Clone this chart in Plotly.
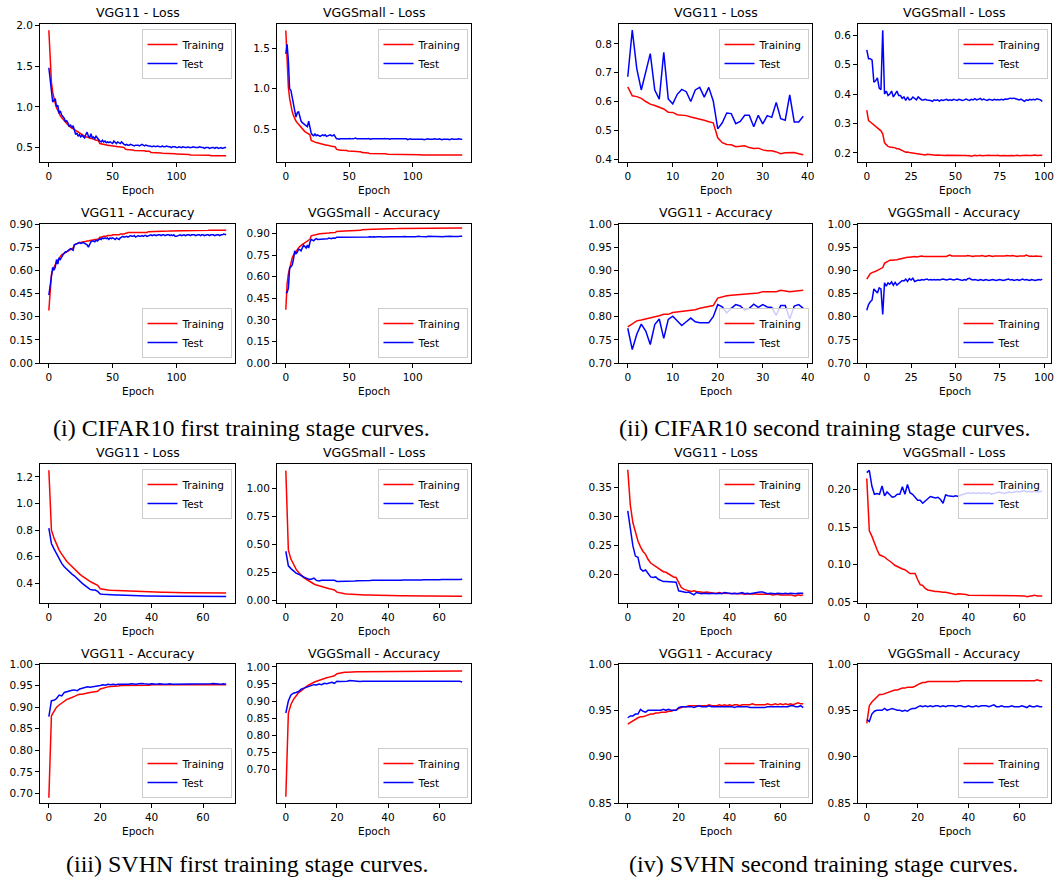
import plotly.graph_objects as go

# ---------------- data ----------------
# (i) CIFAR10 first stage, 140 epochs
c1_vgg11_loss_train = [1.94,1.52,1.30,1.18,1.10,1.04,0.99,0.95,0.92,0.89,
 0.87,0.85,0.83,0.81,0.79,0.78,0.76,0.75,0.74,0.73,
 0.71,0.70,0.69,0.68,0.67,0.66,0.65,0.65,0.64,0.63,
 0.63,0.62,0.62,0.61,0.61,0.60,0.60,0.59,0.59,0.58,
 0.55,0.545,0.54,0.54,0.535,0.53,0.53,0.525,0.525,0.52,
 0.52,0.52,0.515,0.515,0.51,0.51,0.51,0.505,0.505,0.50,
 0.48,0.475,0.475,0.47,0.47,0.47,0.47,0.465,0.465,0.465,
 0.465,0.46,0.46,0.46,0.46,0.46,0.455,0.455,0.455,0.455,
 0.44,0.44,0.44,0.44,0.435,0.435,0.435,0.435,0.435,0.43,
 0.43,0.43,0.43,0.43,0.43,0.43,0.43,0.425,0.425,0.425,
 0.42,0.42,0.42,0.415,0.415,0.415,0.415,0.415,0.415,0.415,
 0.415,0.41,0.41,0.41,0.41,0.41,0.41,0.41,0.41,0.41,
 0.405,0.405,0.405,0.405,0.405,0.405,0.405,0.40,0.40,0.40,
 0.40,0.40,0.40,0.40,0.40,0.40,0.40,0.40,0.40,0.40]
c1_vgg11_loss_test = [1.48,1.32,1.20,1.06,1.08,1.10,1.00,1.02,0.92,0.95,
 0.90,0.88,0.86,0.82,0.83,0.80,0.76,0.78,0.74,0.77,
 0.72,0.66,0.68,0.64,0.66,0.63,0.65,0.64,0.62,0.66,
 0.69,0.64,0.62,0.67,0.62,0.63,0.61,0.64,0.61,0.60,
 0.58,0.57,0.59,0.57,0.58,0.56,0.57,0.56,0.57,0.56,
 0.55,0.58,0.56,0.55,0.57,0.56,0.55,0.57,0.55,0.54,
 0.53,0.54,0.53,0.53,0.54,0.53,0.53,0.52,0.53,0.53,
 0.53,0.52,0.53,0.54,0.53,0.52,0.53,0.52,0.52,0.52,
 0.51,0.51,0.52,0.51,0.51,0.52,0.51,0.51,0.51,0.52,
 0.51,0.51,0.52,0.51,0.51,0.51,0.50,0.51,0.51,0.51,
 0.50,0.50,0.51,0.50,0.50,0.51,0.50,0.50,0.50,0.51,
 0.50,0.50,0.50,0.51,0.50,0.50,0.50,0.50,0.51,0.50,
 0.50,0.50,0.49,0.50,0.50,0.50,0.49,0.50,0.50,0.50,
 0.49,0.50,0.50,0.49,0.50,0.50,0.49,0.50,0.50,0.50]
c1_small_loss_train = [1.72,1.25,1.02,0.88,0.79,0.72,0.67,0.63,0.60,0.58,
 0.56,0.54,0.52,0.50,0.49,0.47,0.46,0.45,0.44,0.43,
 0.36,0.35,0.345,0.34,0.335,0.33,0.325,0.32,0.315,0.31,
 0.31,0.305,0.30,0.30,0.295,0.29,0.29,0.285,0.285,0.28,
 0.25,0.245,0.245,0.24,0.24,0.24,0.235,0.235,0.235,0.23,
 0.23,0.23,0.23,0.225,0.225,0.225,0.225,0.22,0.22,0.22,
 0.21,0.21,0.205,0.205,0.205,0.205,0.20,0.20,0.20,0.20,
 0.20,0.20,0.20,0.20,0.195,0.195,0.195,0.195,0.195,0.195,
 0.19,0.19,0.19,0.19,0.19,0.19,0.19,0.19,0.19,0.19,
 0.19,0.19,0.19,0.185,0.185,0.185,0.185,0.185,0.185,0.185,
 0.185,0.185,0.185,0.185,0.185,0.185,0.185,0.18,0.18,0.18,
 0.18,0.18,0.18,0.18,0.18,0.18,0.18,0.18,0.18,0.18,
 0.18,0.18,0.18,0.18,0.18,0.18,0.18,0.18,0.18,0.18,
 0.18,0.18,0.18,0.18,0.18,0.18,0.18,0.18,0.18,0.18]
c1_small_loss_test = [1.43,1.55,1.35,1.00,0.98,0.90,0.82,0.72,0.65,0.70,
 0.72,0.66,0.60,0.58,0.57,0.55,0.54,0.53,0.60,0.50,
 0.45,0.43,0.42,0.44,0.42,0.43,0.42,0.41,0.42,0.43,
 0.42,0.43,0.41,0.42,0.42,0.43,0.42,0.42,0.43,0.40,
 0.38,0.38,0.375,0.38,0.38,0.38,0.375,0.38,0.38,0.38,
 0.385,0.38,0.38,0.38,0.385,0.39,0.38,0.38,0.375,0.38,
 0.38,0.38,0.375,0.38,0.38,0.385,0.38,0.375,0.38,0.38,
 0.38,0.375,0.38,0.38,0.38,0.375,0.38,0.38,0.385,0.38,
 0.38,0.38,0.375,0.38,0.38,0.375,0.38,0.38,0.375,0.38,
 0.38,0.375,0.38,0.38,0.375,0.38,0.37,0.375,0.38,0.375,
 0.375,0.38,0.375,0.375,0.38,0.375,0.375,0.38,0.375,0.37,
 0.375,0.375,0.38,0.375,0.375,0.37,0.375,0.38,0.375,0.375,
 0.375,0.38,0.375,0.37,0.375,0.375,0.38,0.375,0.375,0.37,
 0.375,0.38,0.375,0.375,0.37,0.375,0.38,0.375,0.375,0.375]
c1_vgg11_acc_train = [0.34,0.50,0.57,0.60,0.62,0.64,0.655,0.665,0.68,0.69,
 0.70,0.705,0.71,0.715,0.72,0.725,0.73,0.735,0.74,0.745,
 0.765,0.77,0.775,0.775,0.78,0.78,0.785,0.785,0.785,0.79,
 0.79,0.79,0.795,0.795,0.795,0.80,0.80,0.80,0.80,0.805,
 0.815,0.815,0.82,0.82,0.82,0.82,0.825,0.825,0.825,0.825,
 0.83,0.83,0.83,0.83,0.83,0.83,0.835,0.835,0.835,0.835,
 0.84,0.84,0.845,0.845,0.845,0.845,0.845,0.845,0.845,0.845,
 0.845,0.845,0.845,0.845,0.845,0.845,0.845,0.845,0.85,0.85,
 0.852,0.852,0.853,0.853,0.853,0.853,0.853,0.853,0.854,0.854,
 0.854,0.854,0.854,0.854,0.854,0.855,0.855,0.855,0.855,0.855,
 0.856,0.856,0.856,0.856,0.856,0.857,0.857,0.857,0.857,0.857,
 0.858,0.858,0.858,0.858,0.858,0.858,0.858,0.858,0.858,0.858,
 0.859,0.859,0.859,0.859,0.859,0.859,0.86,0.86,0.86,0.86,
 0.86,0.86,0.86,0.86,0.86,0.86,0.86,0.86,0.86,0.86]
c1_vgg11_acc_test = [0.44,0.52,0.56,0.62,0.60,0.62,0.67,0.64,0.68,0.67,
 0.69,0.70,0.71,0.72,0.72,0.73,0.735,0.74,0.735,0.73,
 0.765,0.77,0.775,0.78,0.78,0.775,0.78,0.78,0.775,0.77,
 0.765,0.75,0.775,0.785,0.79,0.79,0.785,0.795,0.79,0.80,
 0.805,0.80,0.81,0.805,0.81,0.805,0.81,0.80,0.81,0.805,
 0.81,0.805,0.80,0.81,0.805,0.80,0.81,0.815,0.82,0.815,
 0.82,0.82,0.815,0.82,0.825,0.82,0.82,0.825,0.815,0.82,
 0.825,0.82,0.82,0.825,0.82,0.825,0.825,0.82,0.825,0.83,
 0.83,0.825,0.83,0.83,0.825,0.83,0.83,0.83,0.825,0.83,
 0.83,0.825,0.83,0.83,0.83,0.825,0.83,0.825,0.83,0.82,
 0.82,0.825,0.83,0.83,0.825,0.83,0.83,0.825,0.83,0.83,
 0.83,0.825,0.83,0.83,0.83,0.825,0.83,0.83,0.83,0.825,
 0.83,0.83,0.825,0.83,0.83,0.83,0.825,0.83,0.83,0.83,
 0.825,0.83,0.83,0.83,0.825,0.83,0.83,0.835,0.83,0.83]
c1_small_acc_train = [0.37,0.55,0.62,0.66,0.70,0.73,0.75,0.765,0.78,0.79,
 0.80,0.81,0.82,0.825,0.83,0.837,0.845,0.85,0.855,0.86,
 0.885,0.888,0.89,0.892,0.895,0.897,0.898,0.90,0.90,0.902,
 0.902,0.903,0.904,0.905,0.905,0.906,0.907,0.907,0.908,0.908,
 0.915,0.916,0.916,0.917,0.917,0.918,0.918,0.918,0.919,0.919,
 0.92,0.92,0.92,0.921,0.921,0.922,0.922,0.922,0.923,0.923,
 0.927,0.928,0.928,0.928,0.929,0.929,0.929,0.93,0.93,0.93,
 0.93,0.93,0.931,0.931,0.931,0.931,0.932,0.932,0.932,0.932,
 0.934,0.934,0.934,0.935,0.935,0.935,0.935,0.935,0.935,0.936,
 0.936,0.936,0.936,0.936,0.936,0.937,0.937,0.937,0.937,0.937,
 0.938,0.938,0.938,0.938,0.938,0.938,0.938,0.939,0.939,0.939,
 0.939,0.939,0.939,0.939,0.939,0.94,0.94,0.94,0.94,0.94,
 0.94,0.94,0.94,0.94,0.94,0.941,0.941,0.941,0.941,0.941,
 0.941,0.941,0.941,0.941,0.941,0.941,0.941,0.941,0.941,0.94]
c1_small_acc_test = [0.49,0.49,0.52,0.66,0.67,0.68,0.72,0.78,0.76,0.77,
 0.79,0.79,0.78,0.80,0.82,0.81,0.80,0.82,0.80,0.84,
 0.86,0.855,0.85,0.86,0.865,0.86,0.86,0.865,0.86,0.86,
 0.865,0.86,0.865,0.865,0.87,0.865,0.865,0.87,0.87,0.868,
 0.875,0.875,0.873,0.875,0.877,0.875,0.876,0.875,0.878,0.875,
 0.876,0.877,0.875,0.874,0.877,0.876,0.878,0.875,0.876,0.874,
 0.876,0.877,0.878,0.876,0.875,0.877,0.879,0.876,0.877,0.878,
 0.876,0.877,0.878,0.879,0.877,0.878,0.876,0.877,0.879,0.878,
 0.879,0.88,0.878,0.879,0.878,0.879,0.88,0.878,0.879,0.88,
 0.879,0.878,0.88,0.879,0.88,0.878,0.879,0.88,0.879,0.878,
 0.88,0.879,0.878,0.88,0.879,0.881,0.88,0.879,0.88,0.882,
 0.88,0.879,0.881,0.88,0.879,0.88,0.881,0.879,0.88,0.88,
 0.879,0.88,0.881,0.88,0.879,0.88,0.881,0.88,0.879,0.88,
 0.881,0.88,0.879,0.88,0.881,0.88,0.88,0.882,0.881,0.882]

# (ii) CIFAR10 second stage: VGG11 40 epochs, VGGSmall 100 epochs
c2_vgg11_loss_train = [0.651,0.620,0.617,0.611,0.600,0.591,0.586,0.581,0.574,0.563,
 0.562,0.554,0.552,0.551,0.546,0.543,0.539,0.535,0.530,0.526,
 0.474,0.457,0.451,0.450,0.443,0.444,0.446,0.440,0.437,0.438,
 0.432,0.429,0.429,0.425,0.419,0.422,0.423,0.423,0.419,0.415]
c2_vgg11_loss_test = [0.686,0.848,0.714,0.640,0.703,0.766,0.640,0.608,0.771,0.609,
 0.592,0.625,0.642,0.634,0.600,0.640,0.649,0.615,0.649,0.602,
 0.505,0.526,0.560,0.558,0.523,0.531,0.552,0.552,0.512,0.552,
 0.522,0.551,0.545,0.597,0.540,0.535,0.623,0.529,0.529,0.549]
c2_small_loss_train = [0.345,0.31,0.305,0.30,0.295,0.29,0.283,0.28,0.275,0.265,
 0.235,0.228,0.222,0.22,0.22,0.218,0.217,0.214,0.214,0.21,
 0.207,0.205,0.202,0.203,0.201,0.20,0.199,0.198,0.197,0.198,
 0.196,0.195,0.194,0.193,0.195,0.194,0.193,0.194,0.193,0.192,
 0.193,0.192,0.193,0.192,0.191,0.192,0.192,0.191,0.192,0.191,
 0.192,0.191,0.192,0.193,0.191,0.192,0.191,0.190,0.191,0.189,
 0.191,0.192,0.190,0.191,0.192,0.190,0.191,0.190,0.191,0.192,
 0.191,0.190,0.191,0.191,0.192,0.190,0.191,0.192,0.191,0.190,
 0.191,0.192,0.191,0.190,0.191,0.192,0.190,0.191,0.190,0.191,
 0.192,0.191,0.190,0.191,0.192,0.193,0.191,0.192,0.193,0.192]
c2_small_loss_test = [0.55,0.52,0.52,0.515,0.44,0.445,0.455,0.42,0.415,0.617,
 0.40,0.41,0.395,0.40,0.41,0.39,0.40,0.41,0.395,0.395,
 0.385,0.39,0.378,0.39,0.38,0.382,0.39,0.385,0.38,0.39,
 0.385,0.38,0.38,0.382,0.38,0.38,0.378,0.375,0.38,0.378,
 0.38,0.376,0.38,0.378,0.38,0.382,0.378,0.38,0.378,0.382,
 0.38,0.378,0.382,0.38,0.378,0.38,0.383,0.38,0.378,0.382,
 0.38,0.384,0.38,0.382,0.385,0.38,0.383,0.38,0.378,0.382,
 0.38,0.379,0.382,0.38,0.381,0.38,0.382,0.38,0.383,0.382,
 0.384,0.386,0.385,0.386,0.384,0.382,0.38,0.383,0.378,0.375,
 0.38,0.378,0.382,0.38,0.382,0.38,0.384,0.382,0.38,0.375]
c2_vgg11_acc_train = [0.778,0.785,0.791,0.793,0.795,0.797,0.799,0.802,0.805,0.805,
 0.809,0.810,0.812,0.813,0.814,0.815,0.818,0.820,0.821,0.824,
 0.840,0.843,0.845,0.846,0.847,0.847,0.848,0.849,0.850,0.851,
 0.854,0.854,0.854,0.854,0.857,0.856,0.854,0.855,0.856,0.857]
c2_vgg11_acc_test = [0.775,0.729,0.762,0.784,0.769,0.740,0.783,0.795,0.753,0.794,
 0.801,0.792,0.781,0.789,0.797,0.789,0.787,0.787,0.787,0.800,
 0.826,0.821,0.808,0.818,0.826,0.823,0.814,0.818,0.827,0.820,
 0.826,0.821,0.820,0.803,0.824,0.824,0.795,0.823,0.826,0.818]
c2_small_acc_train = [0.881,0.888,0.893,0.895,0.896,0.898,0.90,0.902,0.904,0.906,
 0.915,0.918,0.921,0.922,0.922,0.922,0.923,0.923,0.924,0.925,
 0.926,0.927,0.927,0.928,0.928,0.929,0.929,0.930,0.929,0.930,
 0.930,0.931,0.930,0.930,0.931,0.930,0.931,0.931,0.930,0.931,
 0.930,0.931,0.930,0.931,0.931,0.930,0.932,0.933,0.931,0.931,
 0.930,0.931,0.930,0.931,0.931,0.930,0.931,0.932,0.931,0.931,
 0.930,0.931,0.931,0.930,0.931,0.932,0.931,0.930,0.931,0.932,
 0.931,0.930,0.931,0.931,0.930,0.931,0.930,0.931,0.931,0.932,
 0.931,0.931,0.932,0.931,0.931,0.930,0.931,0.931,0.932,0.931,
 0.933,0.931,0.930,0.931,0.930,0.931,0.931,0.930,0.931,0.930]
c2_small_acc_test = [0.814,0.826,0.832,0.836,0.86,0.855,0.851,0.862,0.86,0.805,
 0.873,0.866,0.873,0.87,0.875,0.868,0.874,0.868,0.872,0.876,
 0.878,0.877,0.881,0.876,0.882,0.879,0.883,0.876,0.878,0.879,
 0.878,0.880,0.879,0.880,0.881,0.879,0.880,0.879,0.880,0.879,
 0.880,0.879,0.880,0.881,0.880,0.879,0.880,0.881,0.880,0.879,
 0.880,0.881,0.880,0.879,0.878,0.880,0.879,0.882,0.883,0.880,
 0.879,0.880,0.879,0.878,0.880,0.879,0.878,0.880,0.879,0.878,
 0.879,0.880,0.879,0.878,0.879,0.880,0.879,0.878,0.879,0.880,
 0.881,0.879,0.880,0.878,0.879,0.880,0.878,0.879,0.881,0.879,
 0.880,0.879,0.878,0.880,0.879,0.878,0.879,0.880,0.879,0.881]

# (iii) SVHN first stage, 70 epochs
s1_vgg11_loss_train = [1.25,0.80,0.74,0.69,0.65,0.62,0.59,0.565,0.545,0.525,
 0.505,0.485,0.47,0.455,0.44,0.43,0.415,0.405,0.395,0.385,
 0.36,0.355,0.352,0.35,0.348,0.347,0.346,0.345,0.344,0.343,
 0.342,0.341,0.34,0.34,0.339,0.338,0.338,0.337,0.337,0.336,
 0.335,0.334,0.334,0.333,0.333,0.333,0.332,0.332,0.332,0.331,
 0.331,0.331,0.33,0.33,0.33,0.33,0.329,0.329,0.329,0.329,
 0.328,0.328,0.328,0.328,0.328,0.327,0.327,0.327,0.327,0.327]
s1_vgg11_loss_test = [0.815,0.70,0.66,0.62,0.585,0.55,0.525,0.505,0.485,0.47,
 0.455,0.435,0.42,0.40,0.385,0.37,0.355,0.35,0.35,0.34,
 0.32,0.318,0.316,0.315,0.314,0.313,0.312,0.312,0.311,0.31,
 0.31,0.309,0.309,0.308,0.308,0.307,0.307,0.306,0.306,0.306,
 0.305,0.305,0.305,0.304,0.304,0.304,0.304,0.303,0.303,0.303,
 0.303,0.303,0.302,0.302,0.302,0.302,0.302,0.302,0.302,0.301,
 0.301,0.301,0.301,0.301,0.301,0.301,0.301,0.301,0.301,0.301]
s1_small_loss_train = [1.16,0.45,0.37,0.32,0.28,0.25,0.225,0.205,0.19,0.175,
 0.16,0.148,0.138,0.13,0.123,0.117,0.11,0.105,0.10,0.095,
 0.075,0.068,0.063,0.06,0.058,0.056,0.055,0.054,0.053,0.052,
 0.051,0.05,0.05,0.049,0.048,0.048,0.047,0.047,0.046,0.046,
 0.045,0.045,0.044,0.044,0.043,0.043,0.043,0.042,0.042,0.042,
 0.041,0.041,0.041,0.041,0.04,0.04,0.04,0.04,0.04,0.039,
 0.039,0.039,0.039,0.039,0.039,0.038,0.038,0.038,0.038,0.038]
s1_small_loss_test = [0.44,0.31,0.285,0.26,0.245,0.235,0.22,0.21,0.20,0.19,
 0.19,0.20,0.18,0.175,0.18,0.18,0.18,0.175,0.175,0.18,
 0.17,0.17,0.175,0.172,0.175,0.174,0.176,0.175,0.177,0.176,
 0.178,0.177,0.179,0.178,0.18,0.179,0.18,0.181,0.18,0.182,
 0.181,0.183,0.182,0.181,0.183,0.182,0.184,0.183,0.182,0.184,
 0.183,0.185,0.184,0.183,0.185,0.184,0.186,0.185,0.184,0.186,
 0.185,0.187,0.186,0.185,0.187,0.186,0.188,0.187,0.188,0.19]
s1_vgg11_acc_train = [0.69,0.88,0.89,0.90,0.905,0.91,0.915,0.918,0.92,0.922,
 0.925,0.928,0.93,0.93,0.932,0.933,0.934,0.935,0.936,0.937,
 0.942,0.944,0.946,0.947,0.948,0.948,0.949,0.949,0.95,0.95,
 0.95,0.95,0.95,0.951,0.951,0.951,0.951,0.951,0.951,0.951,
 0.952,0.952,0.951,0.952,0.952,0.952,0.952,0.952,0.951,0.952,
 0.952,0.952,0.952,0.952,0.952,0.952,0.952,0.952,0.952,0.952,
 0.952,0.952,0.952,0.952,0.952,0.952,0.952,0.952,0.952,0.952]
s1_vgg11_acc_test = [0.878,0.915,0.916,0.92,0.928,0.926,0.934,0.936,0.938,0.939,
 0.94,0.938,0.942,0.944,0.945,0.947,0.946,0.947,0.947,0.948,
 0.95,0.952,0.951,0.953,0.952,0.953,0.952,0.953,0.953,0.952,
 0.953,0.953,0.954,0.953,0.953,0.954,0.955,0.954,0.953,0.953,
 0.954,0.953,0.953,0.954,0.953,0.953,0.953,0.954,0.953,0.953,
 0.954,0.954,0.953,0.953,0.953,0.954,0.953,0.953,0.953,0.953,
 0.953,0.954,0.953,0.954,0.955,0.954,0.953,0.953,0.954,0.953]
s1_small_acc_train = [0.62,0.865,0.89,0.905,0.915,0.925,0.93,0.937,0.942,0.947,
 0.952,0.955,0.958,0.961,0.964,0.966,0.968,0.97,0.972,0.974,
 0.98,0.982,0.983,0.984,0.984,0.985,0.985,0.985,0.986,0.986,
 0.986,0.986,0.987,0.987,0.987,0.987,0.987,0.988,0.988,0.988,
 0.988,0.988,0.988,0.988,0.988,0.988,0.988,0.988,0.988,0.988,
 0.988,0.988,0.988,0.988,0.988,0.988,0.988,0.988,0.988,0.988,
 0.988,0.988,0.988,0.988,0.988,0.988,0.988,0.988,0.988,0.988]
s1_small_acc_test = [0.865,0.90,0.918,0.923,0.925,0.928,0.935,0.938,0.94,0.943,
 0.945,0.948,0.947,0.95,0.948,0.952,0.951,0.953,0.955,0.952,
 0.958,0.957,0.957,0.958,0.958,0.96,0.959,0.958,0.958,0.957,
 0.958,0.958,0.957,0.958,0.959,0.958,0.958,0.957,0.958,0.958,
 0.959,0.958,0.958,0.957,0.958,0.958,0.957,0.958,0.958,0.958,
 0.959,0.958,0.957,0.958,0.958,0.957,0.958,0.958,0.958,0.959,
 0.958,0.958,0.957,0.958,0.958,0.958,0.958,0.957,0.958,0.956]

# (iv) SVHN second stage, 70 epochs
s2_vgg11_loss_train = [0.381,0.32,0.29,0.272,0.258,0.248,0.24,0.235,0.226,0.22,
 0.217,0.215,0.212,0.208,0.205,0.204,0.201,0.199,0.196,0.195,
 0.185,0.178,0.175,0.173,0.172,0.171,0.172,0.171,0.170,0.170,
 0.169,0.170,0.169,0.169,0.168,0.168,0.169,0.168,0.168,0.167,
 0.168,0.167,0.167,0.168,0.167,0.167,0.166,0.167,0.167,0.166,
 0.167,0.166,0.166,0.167,0.166,0.166,0.166,0.165,0.166,0.166,
 0.165,0.165,0.166,0.165,0.165,0.164,0.163,0.165,0.164,0.165]
s2_vgg11_loss_test = [0.31,0.275,0.25,0.232,0.23,0.21,0.206,0.208,0.202,0.196,
 0.195,0.196,0.192,0.19,0.188,0.188,0.188,0.188,0.187,0.187,
 0.172,0.171,0.17,0.169,0.17,0.168,0.165,0.169,0.168,0.167,
 0.168,0.167,0.167,0.168,0.167,0.167,0.168,0.167,0.169,0.168,
 0.168,0.167,0.168,0.167,0.168,0.169,0.167,0.168,0.167,0.168,
 0.168,0.169,0.17,0.17,0.168,0.167,0.168,0.167,0.167,0.168,
 0.167,0.167,0.168,0.167,0.168,0.167,0.167,0.168,0.168,0.168]
s2_small_loss_train = [0.215,0.145,0.138,0.128,0.12,0.113,0.112,0.11,0.107,0.105,
 0.102,0.099,0.097,0.095,0.094,0.093,0.091,0.088,0.088,0.088,
 0.08,0.073,0.072,0.068,0.066,0.065,0.065,0.064,0.064,0.063,
 0.063,0.063,0.062,0.062,0.061,0.060,0.061,0.061,0.060,0.060,
 0.059,0.059,0.059,0.059,0.058,0.059,0.059,0.058,0.059,0.058,
 0.058,0.059,0.058,0.058,0.059,0.058,0.058,0.059,0.058,0.058,
 0.059,0.058,0.058,0.057,0.058,0.058,0.059,0.058,0.058,0.058]
s2_small_loss_test = [0.223,0.226,0.205,0.194,0.195,0.194,0.205,0.192,0.197,0.193,
 0.19,0.191,0.194,0.194,0.204,0.194,0.207,0.196,0.194,0.19,
 0.186,0.186,0.182,0.185,0.188,0.191,0.19,0.189,0.19,0.187,
 0.182,0.193,0.192,0.191,0.191,0.192,0.191,0.193,0.194,0.195,
 0.196,0.195,0.196,0.195,0.196,0.195,0.196,0.195,0.196,0.194,
 0.195,0.196,0.197,0.196,0.195,0.196,0.197,0.196,0.197,0.198,
 0.197,0.198,0.199,0.197,0.198,0.197,0.198,0.197,0.197,0.198]
s2_vgg11_acc_train = [0.935,0.937,0.939,0.94,0.942,0.943,0.943,0.944,0.945,0.946,
 0.946,0.947,0.947,0.948,0.948,0.948,0.949,0.949,0.95,0.95,
 0.952,0.953,0.954,0.954,0.955,0.955,0.955,0.955,0.955,0.955,
 0.955,0.955,0.956,0.955,0.955,0.955,0.956,0.955,0.956,0.955,
 0.956,0.955,0.956,0.956,0.955,0.956,0.956,0.956,0.956,0.957,
 0.956,0.956,0.956,0.956,0.956,0.957,0.956,0.956,0.957,0.956,
 0.957,0.956,0.957,0.956,0.957,0.956,0.957,0.958,0.957,0.957]
s2_vgg11_acc_test = [0.942,0.944,0.944,0.946,0.946,0.951,0.949,0.948,0.95,0.95,
 0.95,0.95,0.95,0.95,0.951,0.95,0.951,0.95,0.95,0.95,
 0.953,0.954,0.954,0.954,0.954,0.954,0.953,0.954,0.955,0.954,
 0.954,0.954,0.955,0.954,0.954,0.954,0.954,0.954,0.954,0.954,
 0.954,0.954,0.953,0.954,0.954,0.954,0.954,0.954,0.953,0.953,
 0.953,0.953,0.953,0.953,0.953,0.954,0.954,0.954,0.954,0.954,
 0.954,0.954,0.954,0.954,0.955,0.955,0.954,0.954,0.955,0.953]
s2_small_acc_train = [0.936,0.955,0.959,0.962,0.965,0.967,0.967,0.968,0.969,0.97,
 0.971,0.972,0.972,0.973,0.974,0.974,0.975,0.975,0.975,0.976,
 0.978,0.979,0.98,0.98,0.981,0.981,0.981,0.981,0.981,0.981,
 0.981,0.981,0.981,0.981,0.981,0.981,0.981,0.982,0.982,0.982,
 0.982,0.982,0.982,0.982,0.982,0.982,0.982,0.982,0.982,0.982,
 0.982,0.982,0.982,0.982,0.982,0.982,0.982,0.982,0.982,0.982,
 0.982,0.982,0.982,0.982,0.982,0.982,0.982,0.983,0.982,0.982]
s2_small_acc_test = [0.94,0.938,0.946,0.949,0.95,0.95,0.95,0.952,0.95,0.951,
 0.952,0.951,0.95,0.95,0.949,0.95,0.949,0.951,0.952,0.952,
 0.954,0.955,0.954,0.955,0.954,0.955,0.954,0.955,0.955,0.954,
 0.955,0.954,0.955,0.955,0.955,0.954,0.955,0.955,0.954,0.954,
 0.955,0.954,0.954,0.955,0.954,0.955,0.955,0.955,0.954,0.955,
 0.956,0.954,0.954,0.955,0.954,0.954,0.954,0.955,0.954,0.954,
 0.954,0.955,0.954,0.953,0.955,0.954,0.954,0.955,0.954,0.954]

series_names = ["Training", "Test"]
captions = ["(i) CIFAR10 first training stage curves.",
            "(ii) CIFAR10 second training stage curves.",
            "(iii) SVHN first training stage curves.",
            "(iv) SVHN second training stage curves."]

# ---------------- layout helpers ----------------
W, H = 1058, 879
def fx(x): return x / W
def fy(y): return 1 - y / H

COLS = {1: (40, 235), 2: (277, 471), 3: (619, 812), 4: (858, 1051)}
ROWS = {1: (24, 162), 2: (224, 363), 3: (464, 603), 4: (664, 803)}
TITLE_Y = {1: 12.5, 2: 212.5, 3: 452.5, 4: 653.5}
XLAB_Y = {1: 190, 2: 390.5, 3: 630.5, 4: 831}

def steps(a, b, s):
    out, v = [], a
    while v <= b + 1e-9:
        out.append(round(v, 4)); v += s
    return out

panels = [
    dict(t="VGG11 - Loss", r=1, c=1, tr=c1_vgg11_loss_train, te=c1_vgg11_loss_test, yr=[0.323, 2.017], yt=steps(0.5, 2.0, 0.5), yd=1, xt=[0, 50, 100], leg="top"),
    dict(t="VGGSmall - Loss", r=1, c=2, tr=c1_small_loss_train, te=c1_small_loss_test, yr=[0.094, 1.80], yt=steps(0.5, 1.5, 0.5), yd=1, xt=[0, 50, 100], leg="top"),
    dict(t="VGG11 - Accuracy", r=2, c=1, tr=c1_vgg11_acc_train, te=c1_vgg11_acc_test, yr=[0, 0.90], yt=steps(0, 0.9, 0.15), yd=2, xt=[0, 50, 100], leg="bottom"),
    dict(t="VGGSmall - Accuracy", r=2, c=2, tr=c1_small_acc_train, te=c1_small_acc_test, yr=[0, 0.967], yt=steps(0, 0.9, 0.15), yd=2, xt=[0, 50, 100], leg="bottom"),
    dict(t="VGG11 - Loss", r=1, c=3, tr=c2_vgg11_loss_train, te=c2_vgg11_loss_test, yr=[0.390, 0.869], yt=steps(0.4, 0.8, 0.1), yd=1, xt=[0, 10, 20, 30, 40], leg="top"),
    dict(t="VGGSmall - Loss", r=1, c=4, tr=c2_small_loss_train, te=c2_small_loss_test, yr=[0.169, 0.638], yt=steps(0.2, 0.6, 0.1), yd=1, xt=[0, 25, 50, 75, 100], leg="top"),
    dict(t="VGG11 - Accuracy", r=2, c=3, tr=c2_vgg11_acc_train, te=c2_vgg11_acc_test, yr=[0.70, 1.00], yt=steps(0.7, 1.0, 0.05), yd=2, xt=[0, 10, 20, 30, 40], leg="bottom"),
    dict(t="VGGSmall - Accuracy", r=2, c=4, tr=c2_small_acc_train, te=c2_small_acc_test, yr=[0.70, 1.00], yt=steps(0.7, 1.0, 0.05), yd=2, xt=[0, 25, 50, 75, 100], leg="bottom"),
    dict(t="VGG11 - Loss", r=3, c=1, tr=s1_vgg11_loss_train, te=s1_vgg11_loss_test, yr=[0.2525, 1.2975], yt=steps(0.4, 1.2, 0.2), yd=1, xt=[0, 20, 40, 60], leg="top"),
    dict(t="VGGSmall - Loss", r=3, c=2, tr=s1_small_loss_train, te=s1_small_loss_test, yr=[-0.022, 1.219], yt=steps(0, 1.0, 0.25), yd=2, xt=[0, 20, 40, 60], leg="top"),
    dict(t="VGG11 - Accuracy", r=4, c=1, tr=s1_vgg11_acc_train, te=s1_vgg11_acc_test, yr=[0.678, 1.0], yt=steps(0.7, 1.0, 0.05), yd=2, xt=[0, 20, 40, 60], leg="bottom"),
    dict(t="VGGSmall - Accuracy", r=4, c=2, tr=s1_small_acc_train, te=s1_small_acc_test, yr=[0.6015, 1.0085], yt=steps(0.7, 1.0, 0.05), yd=2, xt=[0, 20, 40, 60], leg="bottom"),
    dict(t="VGG11 - Loss", r=3, c=3, tr=s2_vgg11_loss_train, te=s2_vgg11_loss_test, yr=[0.151, 0.391], yt=steps(0.2, 0.35, 0.05), yd=2, xt=[0, 20, 40, 60], leg="top"),
    dict(t="VGGSmall - Loss", r=3, c=4, tr=s2_small_loss_train, te=s2_small_loss_test, yr=[0.0485, 0.2345], yt=steps(0.05, 0.2, 0.05), yd=2, xt=[0, 20, 40, 60], leg="top"),
    dict(t="VGG11 - Accuracy", r=4, c=3, tr=s2_vgg11_acc_train, te=s2_vgg11_acc_test, yr=[0.85, 1.00], yt=steps(0.85, 1.0, 0.05), yd=2, xt=[0, 20, 40, 60], leg="bottom"),
    dict(t="VGGSmall - Accuracy", r=4, c=4, tr=s2_small_acc_train, te=s2_small_acc_test, yr=[0.85, 1.00], yt=steps(0.85, 1.0, 0.05), yd=2, xt=[0, 20, 40, 60], leg="bottom"),
]

FONT = "DejaVu Sans"
fig = go.Figure()
layout = dict(template="none", width=W, height=H,
              margin=dict(l=0, r=0, t=0, b=0, pad=0, autoexpand=False),
              paper_bgcolor="white", plot_bgcolor="white", showlegend=True)
annotations = []

for k, p in enumerate(panels, start=1):
    sfx = "" if k == 1 else str(k)
    assert len(p["tr"]) == len(p["te"]), (k, len(p["tr"]), len(p["te"]))
    n = len(p["tr"])
    epochs = list(range(n))
    leg = "legend" + sfx
    for name, ys, col in ((series_names[0], p["tr"], "#ff0000"), (series_names[1], p["te"], "#0000ff")):
        fig.add_trace(go.Scatter(x=epochs, y=ys, mode="lines", name=name,
                                 line=dict(color=col, width=1.5),
                                 xaxis="x" + sfx, yaxis="y" + sfx, legend=leg))
    c0, c1 = COLS[p["c"]]
    r0, r1 = ROWS[p["r"]]
    span = n - 1
    common = dict(showline=True, mirror=True, linecolor="black", linewidth=1,
                  ticks="outside", ticklen=4, tickwidth=1, tickcolor="black",
                  showgrid=False, zeroline=False, automargin=False,
                  tickfont=dict(family=FONT, size=10.5, color="black"))
    layout["xaxis" + sfx] = dict(domain=[fx(c0), fx(c1)], anchor="y" + sfx,
                                 range=[-0.05 * span, span * 1.05],
                                 tickvals=p["xt"], ticktext=[str(v) for v in p["xt"]], **common)
    layout["yaxis" + sfx] = dict(domain=[fy(r1), fy(r0)], anchor="x" + sfx,
                                 range=p["yr"], tickvals=p["yt"],
                                 ticktext=[f"{v:.{p['yd']}f}" for v in p["yt"]], **common)
    if p["leg"] == "top":
        ly, yanc = fy(r0 + 5), "top"
    else:
        ly, yanc = fy(r1 - 5), "bottom"
    layout[leg] = dict(x=fx(c1 - 3.5), y=ly, xanchor="right", yanchor=yanc,
                       xref="paper", yref="paper",
                       bgcolor="rgba(255,255,255,0.8)", bordercolor="#cccccc", borderwidth=1,
                       font=dict(family=FONT, size=10.5, color="black"),
                       itemwidth=30, tracegroupgap=0)
    annotations.append(dict(x=fx((c0 + c1) / 2), y=fy(TITLE_Y[p["r"]]), xref="paper", yref="paper",
                            text=p["t"], showarrow=False, xanchor="center", yanchor="middle",
                            font=dict(family=FONT, size=12.5, color="black")))
    annotations.append(dict(x=fx((c0 + c1) / 2), y=fy(XLAB_Y[p["r"]]), xref="paper", yref="paper",
                            text="Epoch", showarrow=False, xanchor="center", yanchor="middle",
                            font=dict(family=FONT, size=10.5, color="black")))

# captions: top pair centred on their line, bottom pair sitting on the page's lower edge
cap_pos = [(241, fy(427.5), "middle"), (824, fy(427.5), "middle"),
           (247, 0.0, "bottom"), (823.5, 0.0, "bottom")]
for text, (cx, cy, ya) in zip(captions, cap_pos):
    annotations.append(dict(x=fx(cx), y=cy, xref="paper", yref="paper", text=text,
                            showarrow=False, xanchor="center", yanchor=ya,
                            font=dict(family="Liberation Serif", size=24, color="black")))

layout["annotations"] = annotations
fig.update_layout(**layout)

fig.write_html("out.html", config={"displayModeBar": False},
               post_script="document.body.style.margin='0';document.body.style.overflow='hidden';")
